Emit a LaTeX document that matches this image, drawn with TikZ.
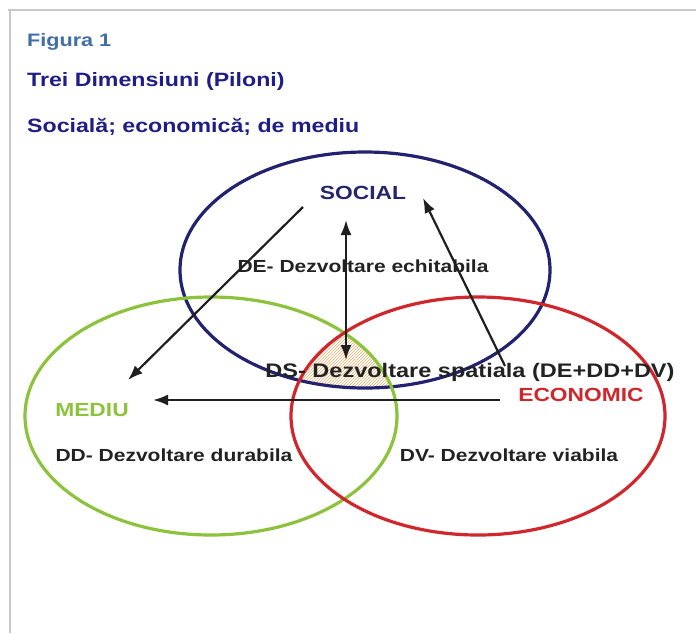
\documentclass[tikz,border=0pt]{standalone}
\usepackage{fontspec}
\setmainfont{Liberation Sans}[FakeStretch=1.2]
\usetikzlibrary{arrows.meta,patterns}
\definecolor{figblue}{HTML}{3F6FA6}
\definecolor{navy}{HTML}{1E1E86}
\definecolor{socnavy}{HTML}{25256E}
\definecolor{ellblue}{HTML}{22226E}
\definecolor{mgreen}{HTML}{8DC33C}
\definecolor{ered}{HTML}{D0272D}
\definecolor{txt}{HTML}{222222}
\definecolor{hatch}{HTML}{E6B070}
\definecolor{frame}{HTML}{C8C8C8}
\begin{document}
\begin{tikzpicture}[x=1pt,y=-1pt,
  head/.style={font=\bfseries\fontsize{19.3}{22}\selectfont,anchor=west,inner sep=0pt},
  lbl/.style={font=\bfseries\fontsize{17.5}{20}\selectfont,text=txt,inner sep=0pt},
  big/.style={font=\bfseries\fontsize{19}{22}\selectfont,inner sep=0pt},
  arr/.style={line width=2.2pt,draw=black!88,-{Latex[length=15pt,width=11pt]}},
  ell/.style={line width=3.2pt}]
\useasboundingbox (0,0) rectangle (696,633);
\fill[white] (0,0) rectangle (696,633);
% frame
\draw[frame,line width=2pt] (8,10) -- (696,10);
\draw[frame,line width=2pt] (10,10) -- (10,633);
% hatched intersection
\begin{scope}
  \clip (365,270) ellipse [x radius=185pt, y radius=118pt];
  \clip (211,416) ellipse [x radius=186pt, y radius=119pt];
  \clip (478,416) ellipse [x radius=187pt, y radius=119pt];
  \fill[pattern=north east lines,pattern color=hatch] (150,250) rectangle (550,450);
\end{scope}
% ellipses
\draw[ell,ellblue] (365,270) ellipse [x radius=185pt, y radius=118pt];
\draw[ell,mgreen] (211,416) ellipse [x radius=186pt, y radius=119pt];
\draw[ell,ered] (478,416) ellipse [x radius=187pt, y radius=119pt];
% headings
\node[head,text=figblue,font=\bfseries\fontsize{18}{21}\selectfont] (fig) at (27,42) {Figura 1};
\node[head,text=navy] (t1) at (27,82) {Trei Dimensiuni (Piloni)};
\node[head,text=navy] (t2) at (27,127) {Socială; economică; de mediu};
% labels
\node[big,text=socnavy] (social) at (363,193) {SOCIAL};
\node[lbl] (de) at (363,266) {DE- Dezvoltare echitabila};
\node[lbl,font=\bfseries\fontsize{19.6}{22}\selectfont] (ds) at (470,372) {DS- Dezvoltare spatiala (DE+DD+DV)};
\node[big,text=ered] (econ) at (581,395) {ECONOMIC};
\node[big,text=mgreen] (mediu) at (92,410) {MEDIU};
\node[lbl] (dd) at (174,455) {DD- Dezvoltare durabila};
\node[lbl] (dv) at (509,455) {DV- Dezvoltare viabila};
% arrow endpoints
\coordinate (a1s) at (303,207);
\coordinate (a1e) at (128,380);
\coordinate (a2s) at (346,360);
\coordinate (a2e) at (346,220);
\coordinate (a3s) at (505,366);
\coordinate (a3e) at (423,198);
\coordinate (a4s) at (500,400);
\coordinate (a4e) at (153,400);
\draw[arr] (a1s) -- (a1e);
\draw[arr,{Latex[length=15pt,width=11pt]}-{Latex[length=15pt,width=11pt]}] (a2s) -- (a2e);
\draw[arr] (a3s) -- (a3e);
\draw[arr] (a4s) -- (a4e);
\end{tikzpicture}
\end{document}
